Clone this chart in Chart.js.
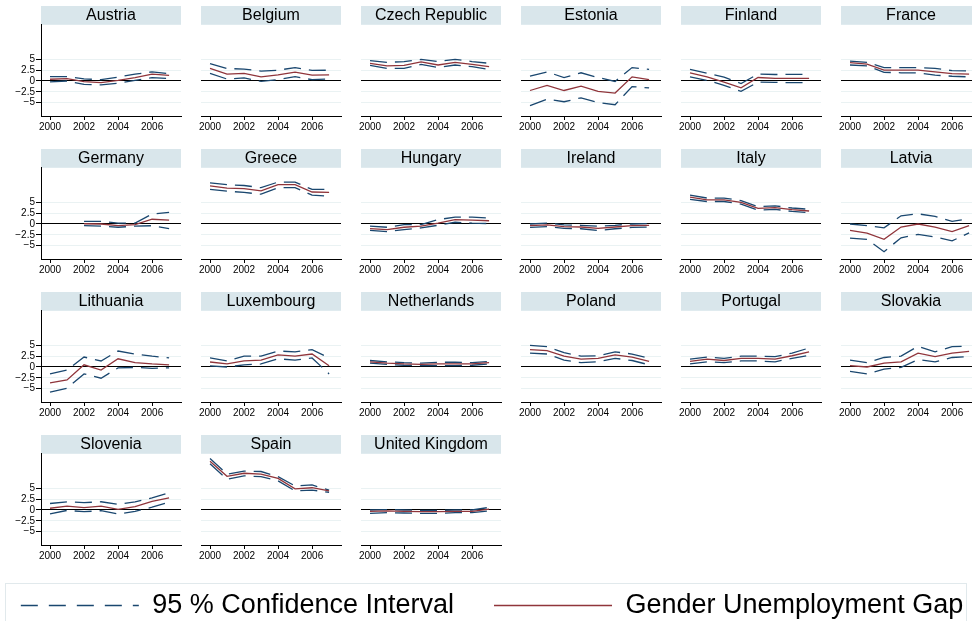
<!DOCTYPE html>
<html>
<head>
<meta charset="utf-8">
<script src="https://cdn.jsdelivr.net/npm/chart.js@4.4.1/dist/chart.umd.min.js"></script>
<style>
  body { margin: 0; background: #fff; }
  #wrap { position: relative; width: 972px; height: 621px; overflow: hidden; background: #fff; }
  #wrap canvas { position: absolute; }
</style>
</head>
<body>
<div id="wrap"></div>
<script>
const years = [2000, 2001, 2002, 2003, 2004, 2005, 2006, 2007];
const yearTicks = [2000, 2002, 2004, 2006];
const gapTicks = [-5, -2.5, 0, 2.5, 5];

const countries = [
    'Austria', 'Belgium', 'Czech Republic', 'Estonia', 'Finland', 'France',
    'Germany', 'Greece', 'Hungary', 'Ireland', 'Italy', 'Latvia',
    'Lithuania', 'Luxembourg', 'Netherlands', 'Poland', 'Portugal', 'Slovakia',
    'Slovenia', 'Spain', 'United Kingdom',
];

// gender unemployment gap, one row per country (same order as above)
const gapValues = [
    [0.4, 0.55, -0.15, -0.4, 0.15, 0.8, 1.6, 1.3],
    [2.9, 1.6, 1.75, 0.95, 1.4, 2.05, 1.35, 1.4],
    [4.1, 3.5, 3.6, 4.4, 3.7, 4.3, 3.85, 3.3],
    [-2.2, -1.0, -2.2, -1.2, -2.4, -2.8, 0.95, 0.3],
    [1.9, 0.95, -0.25, -1.6, 0.8, 0.6, 0.6, 0.6],
    [4.25, 3.9, 2.5, 2.5, 2.5, 2.1, 1.7, 1.6],
    [null, null, 0.05, 0, -0.4, -0.15, 1.1, 0.9],
    [8.8, 8.3, 8.2, 7.65, 9.1, 9.1, 7.4, 7.3],
    [-1.05, -1.3, -0.75, -0.5, 0.2, 1.0, 0.9, 0.75],
    [-0.4, -0.2, -0.6, -0.7, -1.0, -0.7, -0.4, -0.3],
    [6.2, 5.6, 5.6, 5.0, 3.6, 3.8, 3.3, 3.0],
    [-1.5, -2.1, -3.55, -0.7, 0, -0.75, -1.75, -0.4],
    [-3.7, -3.0, 0.5, -0.7, 1.9, 1.0, 0.7, 0.5],
    [1.15, 0.7, 1.4, 1.6, 2.8, 2.5, 3.0, 0.3],
    [1.2, 0.9, 0.7, 0.6, 0.7, 0.7, 0.7, 1.0],
    [4.0, 3.8, 2.5, 1.8, 2.0, 2.8, 2.3, 1.3],
    [1.3, 1.8, 1.5, 2.0, 2.0, 1.8, 2.6, 3.5],
    [0.3, 0, 0.9, 1.2, 3.2, 2.4, 3.2, 3.6],
    [0.4, 0.9, 0.55, 0.9, 0.15, 0.8, 2.0, 2.8],
    [11.3, 7.8, 8.5, 8.3, 7.3, 4.9, 5.15, 4.4],
    [-0.3, -0.2, -0.3, -0.4, -0.4, -0.3, -0.3, 0.2],
];

// upper bound of the 95 % confidence interval
const upperValues = [
    [1.0, 1.0, 0.5, 0.3, 0.9, 1.6, 2.1, 1.7],
    [4.0, 2.9, 2.75, 2.3, 2.5, 3.1, 2.45, 2.5],
    [4.7, 4.3, 4.5, 5.0, 4.5, 5.0, 4.5, 4.1],
    [1.1, 2.1, 0.8, 1.9, 0.8, -0.1, 3.1, 2.7],
    [2.7, 1.8, 0.9, -0.6, 1.6, 1.5, 1.55, 1.55],
    [4.6, 4.3, 3.1, 3.1, 3.1, 2.9, 2.4, 2.3],
    [null, null, 0.6, 0.6, 0.2, 0.2, 2.3, 2.7],
    [9.5, 9.1, 8.9, 8.4, 9.7, 9.7, 8.0, 8.0],
    [-0.5, -0.75, -0.15, -0.15, 1.0, 1.6, 1.6, 1.35],
    [0, 0.2, -0.2, -0.3, -0.5, -0.3, 0, 0.1],
    [6.7, 6.0, 6.0, 5.4, 4.0, 4.2, 3.7, 3.4],
    [0, -0.4, -0.9, 1.9, 2.35, 1.75, 0.6, 1.2],
    [-1.6, -0.7, 2.3, 1.4, 3.7, 3.0, 2.5, 2.1],
    [2.1, 1.4, 2.5, 2.5, 3.7, 3.5, 4.0, 2.1],
    [1.5, 1.2, 1.0, 0.9, 1.1, 1.1, 1.0, 1.3],
    [5.0, 4.7, 3.3, 2.5, 2.6, 3.5, 3.0, 2.0],
    [1.8, 2.3, 2.0, 2.5, 2.5, 2.4, 3.2, 4.4],
    [1.6, 1.0, 2.2, 2.5, 4.8, 3.5, 4.7, 4.8],
    [1.5, 1.9, 1.7, 1.9, 1.3, 1.9, 2.8, 4.0],
    [11.9, 8.3, 9.0, 8.9, 7.7, 5.55, 5.8, 4.6],
    [0, 0.1, 0, -0.1, -0.1, 0, 0, 0.6],
];

// lower bound of the 95 % confidence interval
const lowerValues = [
    [-0.2, 0, -0.8, -0.9, -0.5, 0.15, 0.8, 0.55],
    [1.75, 0.45, 0.7, -0.1, 0.3, 1.0, 0.3, 0.45],
    [3.6, 2.9, 2.9, 3.85, 3.1, 3.7, 3.3, 2.7],
    [-5.7, -4.2, -4.8, -3.9, -5.0, -5.5, -1.3, -1.6],
    [0.95, 0.15, -1.0, -2.4, -0.25, -0.3, -0.4, -0.4],
    [3.7, 3.5, 2.0, 1.9, 1.9, 1.35, 1.1, 0.95],
    [null, null, -0.4, -0.5, -0.75, -0.5, -0.4, -1.05],
    [8.0, 7.6, 7.3, 6.9, 8.4, 8.4, 6.7, 6.4],
    [-1.5, -1.75, -1.3, -0.9, -0.3, 0.4, 0.2, 0.1],
    [-0.8, -0.6, -1.0, -1.1, -1.5, -1.1, -0.8, -0.7],
    [5.7, 5.2, 5.2, 4.6, 3.2, 3.4, 2.9, 2.6],
    [-3.25, -3.55, -6.4, -3.2, -2.4, -3.0, -3.9, -2.05],
    [-5.8, -4.9, -1.6, -2.6, -0.2, -0.1, -0.3, -0.2],
    [0.25, 0, 0.5, 0.7, 1.9, 1.6, 2.1, -1.6],
    [0.9, 0.6, 0.4, 0.3, 0.3, 0.3, 0.4, 0.7],
    [3.2, 3.0, 1.6, 1.0, 1.2, 2.0, 1.5, 0.5],
    [0.7, 1.2, 1.0, 1.4, 1.4, 1.2, 2.0, 2.7],
    [-1.0, -1.6, -0.5, -0.1, 1.7, 1.2, 2.2, 2.4],
    [-0.9, -0.1, -0.4, -0.15, -0.95, -0.3, 0.65, 1.85],
    [10.7, 7.1, 7.9, 7.7, 6.75, 4.4, 4.6, 4.1],
    [-0.8, -0.6, -0.7, -0.8, -0.8, -0.6, -0.6, -0.2],
];

const NAVY = '#1a476f';
const MAROON = '#90353b';
const STRIP = '#d9e6eb';
const GRID = '#eaf2f3';
const FONT = 'Arial, "Liberation Sans", Helvetica, sans-serif';

const wrap = document.getElementById('wrap');

// paints the grey-blue strip behind each panel title
const stripPlugin = {
    id: 'strip',
    beforeDraw(chart) {
        const t = chart.titleBlock;
        if (!t) {
            return;
        }
        const ctx = chart.ctx;
        ctx.save();
        ctx.fillStyle = STRIP;
        ctx.fillRect(chart.chartArea.left, t.top, chart.chartArea.width, t.height);
        ctx.restore();
    },
};

// legend canvas is wider than the page and shifted left by this much
const LEGEND_SHIFT = 58;

// thin frame around the legend, like the one Stata puts there
const framePlugin = {
    id: 'frame',
    afterDraw(chart) {
        const ctx = chart.ctx;
        ctx.save();
        ctx.strokeStyle = '#e1e9ec';
        ctx.lineWidth = 1;
        ctx.strokeRect(LEGEND_SHIFT + 5.5, 43.5, 961, 120);
        ctx.restore();
    },
};

function series(values) {
    return years.map((yr, k) => ({ x: yr, y: values[k] }));
}

function makeCanvas(left, top, width, height) {
    const canvas = document.createElement('canvas');
    canvas.width = width;
    canvas.height = height;
    canvas.style.left = left + 'px';
    canvas.style.top = top + 'px';
    canvas.style.width = width + 'px';
    canvas.style.height = height + 'px';
    wrap.appendChild(canvas);
    return canvas;
}

function renderPanel(index) {
    const row = Math.floor(index / 6);
    const col = index % 6;
    const firstCol = col === 0;
    const canvas = makeCanvas(col * 160, row * 143, 185, 143);

    const line = {
        pointRadius: 0,
        borderWidth: 1.3,
        tension: 0,
        fill: false,
        spanGaps: false,
    };

    new Chart(canvas, {
        type: 'line',
        data: {
            datasets: [
                Object.assign({ label: 'Gap', data: series(gapValues[index]), borderColor: MAROON }, line),
                Object.assign({ label: 'Upper', data: series(upperValues[index]), borderColor: NAVY, borderDash: [17, 8] }, line),
                Object.assign({ label: 'Lower', data: series(lowerValues[index]), borderColor: NAVY, borderDash: [17, 8] }, line),
            ],
        },
        options: {
            responsive: false,
            animation: false,
            events: [],
            layout: {
                padding: { top: 6, right: 4, bottom: 0, left: 0 },
            },
            plugins: {
                legend: { display: false },
                tooltip: { enabled: false },
                title: {
                    display: true,
                    text: countries[index],
                    fullSize: false,
                    color: '#000',
                    font: { family: FONT, size: 16, weight: 'normal', lineHeight: 1.05 },
                    padding: { top: 1, bottom: 1 },
                },
            },
            scales: {
                x: {
                    type: 'linear',
                    min: 1999.47,
                    max: 2007.7,
                    afterBuildTicks: function (scale) {
                        scale.ticks = yearTicks.map(v => ({ value: v }));
                    },
                    afterFit: function (scale) {
                        scale.height = 27;
                    },
                    grid: {
                        drawOnChartArea: false,
                        drawTicks: true,
                        tickLength: 4,
                        tickColor: '#000',
                    },
                    border: { display: true, color: '#000', width: 1 },
                    ticks: {
                        color: '#000',
                        padding: 1,
                        maxRotation: 0,
                        autoSkip: false,
                        font: { family: FONT, size: 10 },
                        callback: function (value) {
                            return String(value);
                        },
                    },
                },
                y: {
                    type: 'linear',
                    min: -8.1,
                    max: 13,
                    afterBuildTicks: function (scale) {
                        scale.ticks = gapTicks.map(v => ({ value: v }));
                    },
                    afterFit: function (scale) {
                        scale.width = 41;
                    },
                    grid: {
                        drawTicks: firstCol,
                        tickLength: 5,
                        tickColor: '#000',
                        lineWidth: 1,
                        color: function (ctx) {
                            return ctx.tick && ctx.tick.value === 0 ? '#000' : GRID;
                        },
                    },
                    border: { display: firstCol, color: '#000', width: 1 },
                    ticks: {
                        display: firstCol,
                        color: '#000',
                        padding: 1,
                        autoSkip: false,
                        font: { family: FONT, size: 10 },
                        callback: function (value) {
                            return value < 0 ? '\u2212' + Math.abs(value) : String(value);
                        },
                    },
                },
            },
        },
        plugins: [stripPlugin],
    });
}

function renderLegend() {
    // tall, wide canvas: the keys sit 40px (label padding) below its top and
    // need more than the page width to stay on one row; the page clips the rest
    const canvas = makeCanvas(-LEGEND_SHIFT, 540, 1100, 160);

    new Chart(canvas, {
        type: 'line',
        data: {
            labels: [],
            datasets: [
                {
                    label: '95 % Confidence Interval',
                    data: [],
                    borderColor: NAVY,
                    backgroundColor: NAVY,
                    borderWidth: 1.6,
                    borderDash: [17, 11],
                    pointStyle: 'line',
                },
                {
                    label: 'Gender Unemployment Gap',
                    data: [],
                    borderColor: MAROON,
                    backgroundColor: MAROON,
                    borderWidth: 1.6,
                    pointStyle: 'line',
                },
            ],
        },
        options: {
            responsive: false,
            animation: false,
            events: [],
            layout: { padding: { top: 12 } },
            plugins: {
                tooltip: { enabled: false },
                legend: {
                    display: true,
                    position: 'top',
                    maxHeight: 140,
                    labels: {
                        usePointStyle: true,
                        pointStyleWidth: 118,
                        color: '#000',
                        padding: 40,
                        font: { family: FONT, size: 27 },
                        // point-style keys lose the dataset dash, so copy it over
                        generateLabels: function (chart) {
                            const items = Chart.defaults.plugins.legend.labels.generateLabels(chart);
                            items.forEach(function (item) {
                                const ds = chart.data.datasets[item.datasetIndex];
                                item.lineDash = ds.borderDash || [];
                                item.lineWidth = ds.borderWidth;
                                item.strokeStyle = ds.borderColor;
                            });
                            return items;
                        },
                    },
                },
            },
            scales: {
                x: { display: false },
                y: { display: false },
            },
        },
        plugins: [framePlugin],
    });
}

document.addEventListener('DOMContentLoaded', function () {
    countries.forEach((name, i) => renderPanel(i));
    renderLegend();
});
</script>
</body>
</html>
